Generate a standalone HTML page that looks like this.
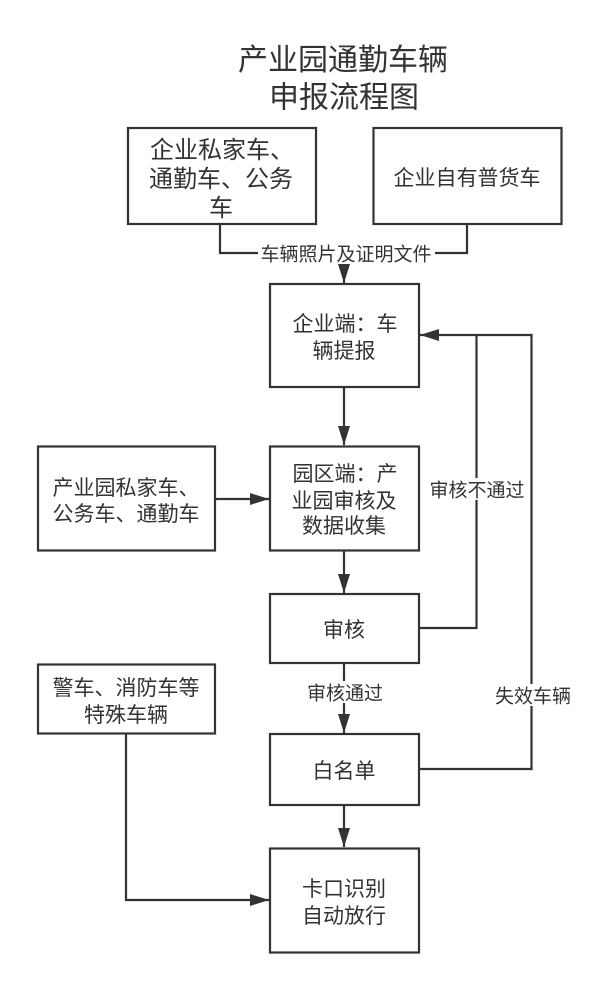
<!DOCTYPE html>
<html>
<head>
<meta charset="utf-8">
<style>
  html, body { margin: 0; padding: 0; background: #ffffff; }
  body { width: 609px; height: 990px; overflow: hidden; }
  svg { display: block; }
  text { font-family: "Liberation Sans", "Noto Sans CJK SC", "WenQuanYi Zen Hei", sans-serif; fill: #333333; }
</style>
</head>
<body>
<svg width="609" height="990" viewBox="0 0 609 990" xmlns="http://www.w3.org/2000/svg">
  <defs>
    <marker id="ah" markerWidth="19" markerHeight="12" refX="19" refY="6" orient="auto" markerUnits="userSpaceOnUse">
      <path d="M0,0 L19,6 L0,12 Z" fill="#333333"/>
    </marker>
  </defs>

  <!-- Title -->
  <text x="343" y="70" font-size="30" text-anchor="middle">产业园通勤车辆</text>
  <text x="344" y="107.5" font-size="30" text-anchor="middle">申报流程图</text>

  <g fill="none" stroke="#333333" stroke-width="2.2">
    <!-- boxes -->
    <rect x="128" y="128" width="188" height="96"/>
    <rect x="373.5" y="128" width="188" height="96"/>
    <rect x="270" y="284" width="149" height="103"/>
    <rect x="270" y="446.5" width="149" height="104"/>
    <rect x="270" y="594" width="149" height="69"/>
    <rect x="270" y="734" width="149" height="71"/>
    <rect x="270" y="848.5" width="149" height="104"/>
    <rect x="38" y="446.5" width="177" height="104"/>
    <rect x="38" y="664.5" width="177" height="69"/>

    <!-- connectors -->
    <polyline points="220,224 220,253 467,253 467,224"/>
    <line x1="344" y1="253" x2="344" y2="283" marker-end="url(#ah)"/>
    <line x1="344" y1="387" x2="344" y2="445" marker-end="url(#ah)"/>
    <line x1="215" y1="499" x2="269" y2="499" marker-end="url(#ah)"/>
    <line x1="344" y1="551" x2="344" y2="593" marker-end="url(#ah)"/>
    <polyline points="419,628 476.5,628 476.5,335"/>
    <polyline points="419,769 531.5,769 531.5,335 420,335" marker-end="url(#ah)"/>
    <line x1="344" y1="663" x2="344" y2="733" marker-end="url(#ah)"/>
    <line x1="344" y1="805" x2="344" y2="847" marker-end="url(#ah)"/>
    <polyline points="126,734 126,900 269,900" marker-end="url(#ah)"/>
  </g>

  <!-- label backgrounds -->
  <g fill="#ffffff">
    <rect x="258" y="242" width="177" height="22"/>
    <rect x="428" y="478" width="98" height="22"/>
    <rect x="305" y="681" width="80" height="22"/>
    <rect x="493" y="684" width="80" height="22"/>
  </g>

  <!-- labels -->
  <text x="346" y="260.5" font-size="19" text-anchor="middle">车辆照片及证明文件</text>
  <text x="477" y="496.5" font-size="19" text-anchor="middle">审核不通过</text>
  <text x="345" y="699.5" font-size="19" text-anchor="middle">审核通过</text>
  <text x="533" y="702.5" font-size="19" text-anchor="middle">失效车辆</text>

  <!-- box texts -->
  <text x="222" y="158" font-size="24" text-anchor="middle">企业私家车、</text>
  <text x="221" y="187" font-size="24" text-anchor="middle">通勤车、公务</text>
  <text x="221" y="216" font-size="24" text-anchor="middle">车</text>

  <text x="467" y="185" font-size="21" text-anchor="middle">企业自有普货车</text>

  <text x="345" y="331" font-size="21" text-anchor="middle">企业端：车</text>
  <text x="344" y="358" font-size="21" text-anchor="middle">辆提报</text>

  <text x="345" y="481" font-size="21" text-anchor="middle">园区端：产</text>
  <text x="344" y="508" font-size="21" text-anchor="middle">业园审核及</text>
  <text x="344" y="533" font-size="21" text-anchor="middle">数据收集</text>

  <text x="344" y="637" font-size="21" text-anchor="middle">审核</text>
  <text x="344" y="778" font-size="21" text-anchor="middle">白名单</text>

  <text x="344" y="896" font-size="21" text-anchor="middle">卡口识别</text>
  <text x="344" y="923" font-size="21" text-anchor="middle">自动放行</text>

  <text x="126" y="495" font-size="21" text-anchor="middle">产业园私家车、</text>
  <text x="126" y="521" font-size="21" text-anchor="middle">公务车、通勤车</text>

  <text x="126" y="695" font-size="21" text-anchor="middle">警车、消防车等</text>
  <text x="126" y="722" font-size="21" text-anchor="middle">特殊车辆</text>
</svg>
</body>
</html>
